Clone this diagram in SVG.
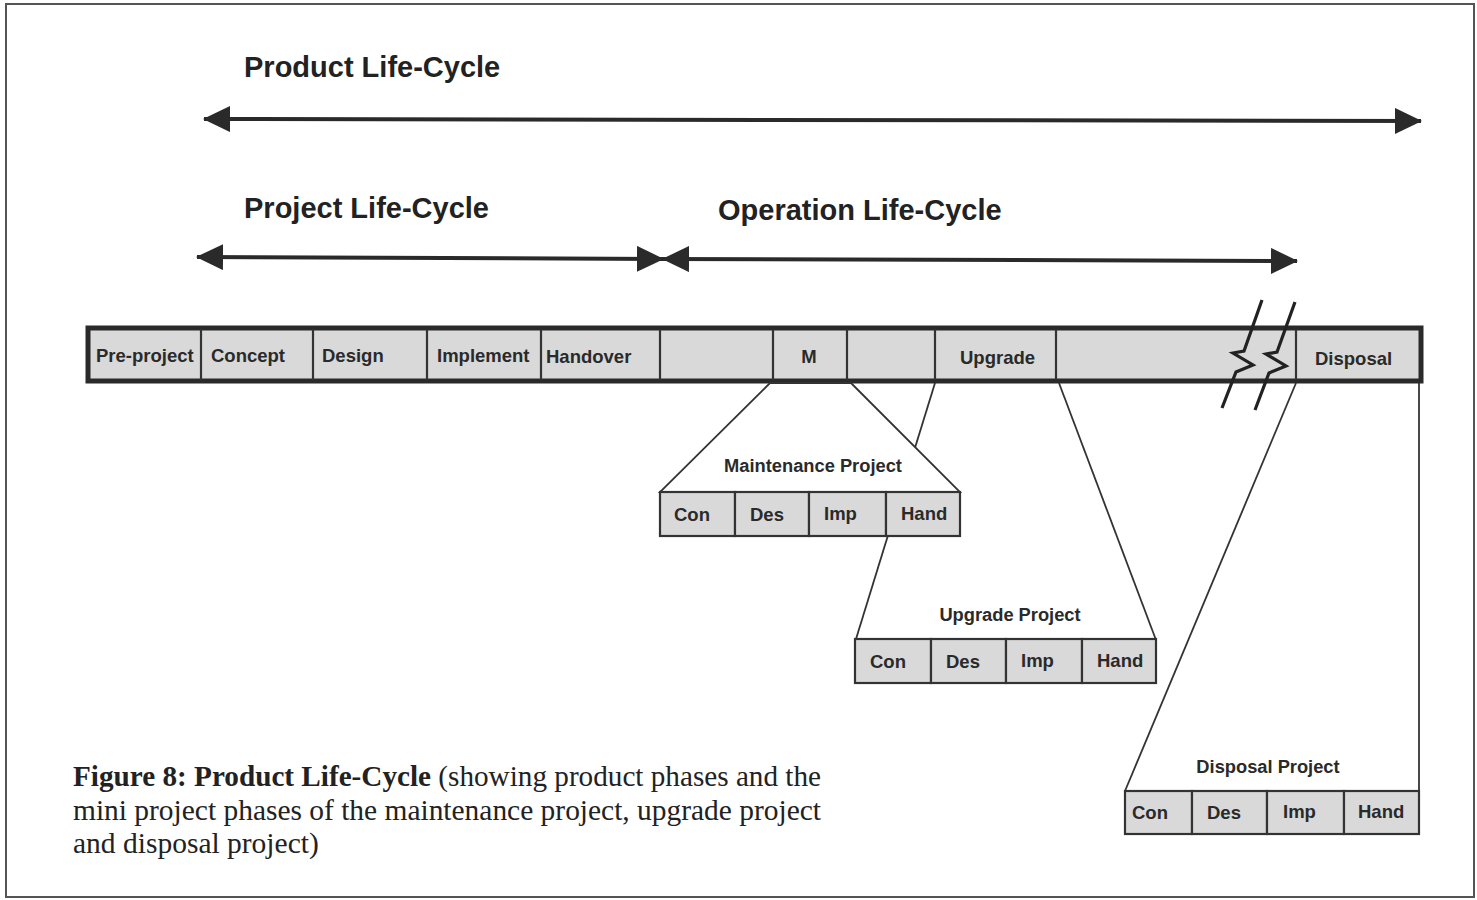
<svg xmlns="http://www.w3.org/2000/svg" width="1477" height="900" viewBox="0 0 1477 900">
  <style>
    .title { font-family: "Liberation Sans", Arial, sans-serif; font-weight: bold; font-size: 29px; fill: #222; }
    .cell { fill: #d9d9d9; stroke: #333; stroke-width: 2.2; }
    .lbl { font-family: "Liberation Sans", Arial, sans-serif; font-weight: bold; font-size: 18.5px; fill: #2a2a2a; }
    .sub { font-family: "Liberation Sans", Arial, sans-serif; font-weight: bold; font-size: 18.3px; fill: #2a2a2a; }
    .arrow { stroke: #2a2a2a; stroke-width: 4; fill: none; }
    .link { stroke: #333; stroke-width: 1.8; fill: none; }
    .trap { fill: #fff; stroke: #333; stroke-width: 1.8; }
    .brk { stroke: #222; stroke-width: 3.2; fill: none; stroke-linejoin: miter; }
    .cap { font-family: "Liberation Serif", "Times New Roman", serif; font-size: 29.5px; fill: #222; }
  </style>
  <defs>
    <marker id="ah" viewBox="0 0 27 26" refX="26" refY="13" markerWidth="27" markerHeight="26" markerUnits="userSpaceOnUse" orient="auto-start-reverse">
      <path d="M0,0 L27,13 L0,26 Z" fill="#2a2a2a"/>
    </marker>
  </defs>

  <rect x="0" y="0" width="1477" height="900" fill="#fff"/>
  <!-- page frame -->
  <rect x="6" y="4" width="1468" height="893" fill="none" stroke="#555" stroke-width="2"/>

  <!-- life-cycle spans -->
  <g id="product-lifecycle">
    <text class="title" x="244" y="77">Product Life-Cycle</text>
    <line class="arrow" x1="204" y1="119" x2="1421" y2="121" marker-start="url(#ah)" marker-end="url(#ah)"/>
  </g>
  <g id="project-lifecycle">
    <text class="title" x="244" y="218">Project Life-Cycle</text>
    <line class="arrow" x1="197" y1="257" x2="663" y2="259" marker-start="url(#ah)" marker-end="url(#ah)"/>
  </g>
  <g id="operation-lifecycle">
    <text class="title" x="718" y="220">Operation Life-Cycle</text>
    <line class="arrow" x1="663" y1="259" x2="1297" y2="261" marker-start="url(#ah)" marker-end="url(#ah)"/>
  </g>

  <!-- connectors from the phase bar to the mini projects -->
  <g id="connectors">
    <line class="link" x1="935" y1="383" x2="856" y2="639"/>
    <line class="link" x1="1059" y1="383" x2="1156" y2="640"/>
    <line class="link" x1="1296" y1="383" x2="1125" y2="791"/>
    <line class="link" x1="1419" y1="383" x2="1419" y2="791"/>
  </g>

  <!-- product phase bar -->
  <g id="phase-bar">
    <rect x="88" y="328" width="1333" height="53" fill="#d9d9d9" stroke="#2a2a2a" stroke-width="5"/>
    <g stroke="#333" stroke-width="2.2">
      <line x1="201" y1="329" x2="201" y2="380"/>
      <line x1="313" y1="329" x2="313" y2="380"/>
      <line x1="427" y1="329" x2="427" y2="380"/>
      <line x1="541" y1="329" x2="541" y2="380"/>
      <line x1="660" y1="329" x2="660" y2="380"/>
      <line x1="773" y1="329" x2="773" y2="380"/>
      <line x1="847" y1="329" x2="847" y2="380"/>
      <line x1="935" y1="329" x2="935" y2="380"/>
      <line x1="1056" y1="329" x2="1056" y2="380"/>
      <line x1="1296" y1="329" x2="1296" y2="380"/>
    </g>
    <text class="lbl" x="96" y="362">Pre-project</text>
    <text class="lbl" x="211" y="362">Concept</text>
    <text class="lbl" x="322" y="362">Design</text>
    <text class="lbl" x="437" y="362">Implement</text>
    <text class="lbl" x="546" y="363">Handover</text>
    <text class="lbl" x="809" y="363" text-anchor="middle">M</text>
    <text class="lbl" x="960" y="364">Upgrade</text>
    <text class="lbl" x="1315" y="365">Disposal</text>
  </g>

  <!-- time break marks -->
  <g id="break-marks">
    <polyline class="brk" points="1262,300 1244,351 1233,353 1253,365 1236,372 1222,408"/>
    <polyline class="brk" points="1295,302 1277,352 1266,354 1286,366 1269,373 1255,410"/>
  </g>

  <!-- maintenance project -->
  <g id="maintenance-project">
    <polygon class="trap" points="770,383 851,383 960,492 660,492"/>
    <text class="sub" x="813" y="472" text-anchor="middle">Maintenance Project</text>
    <rect class="cell" x="660" y="492" width="75" height="44"/>
    <rect class="cell" x="735" y="492" width="74" height="44"/>
    <rect class="cell" x="809" y="492" width="77" height="44"/>
    <rect class="cell" x="886" y="492" width="74" height="44"/>
    <text class="lbl" x="674" y="521">Con</text>
    <text class="lbl" x="750" y="521">Des</text>
    <text class="lbl" x="824" y="520">Imp</text>
    <text class="lbl" x="901" y="520">Hand</text>
  </g>

  <!-- upgrade project -->
  <g id="upgrade-project">
    <text class="sub" x="1010" y="621" text-anchor="middle">Upgrade Project</text>
    <rect class="cell" x="855" y="639" width="76" height="44"/>
    <rect class="cell" x="931" y="639" width="75" height="44"/>
    <rect class="cell" x="1006" y="639" width="76" height="44"/>
    <rect class="cell" x="1082" y="639" width="74" height="44"/>
    <text class="lbl" x="870" y="668">Con</text>
    <text class="lbl" x="946" y="668">Des</text>
    <text class="lbl" x="1021" y="667">Imp</text>
    <text class="lbl" x="1097" y="667">Hand</text>
  </g>

  <!-- disposal project -->
  <g id="disposal-project">
    <text class="sub" x="1268" y="773" text-anchor="middle">Disposal Project</text>
    <rect class="cell" x="1125" y="791" width="67" height="43"/>
    <rect class="cell" x="1192" y="791" width="75" height="43"/>
    <rect class="cell" x="1267" y="791" width="77" height="43"/>
    <rect class="cell" x="1344" y="791" width="75" height="43"/>
    <text class="lbl" x="1132" y="819">Con</text>
    <text class="lbl" x="1207" y="819">Des</text>
    <text class="lbl" x="1283" y="818">Imp</text>
    <text class="lbl" x="1358" y="818">Hand</text>
  </g>

  <!-- caption -->
  <g id="caption">
    <text class="cap" x="73" y="786" textLength="748" lengthAdjust="spacingAndGlyphs"><tspan font-weight="bold">Figure 8: Product Life-Cycle</tspan> (showing product phases and the</text>
    <text class="cap" x="73" y="820" textLength="748" lengthAdjust="spacingAndGlyphs">mini project phases of the maintenance project, upgrade project</text>
    <text class="cap" x="73" y="853">and disposal project)</text>
  </g>
</svg>
